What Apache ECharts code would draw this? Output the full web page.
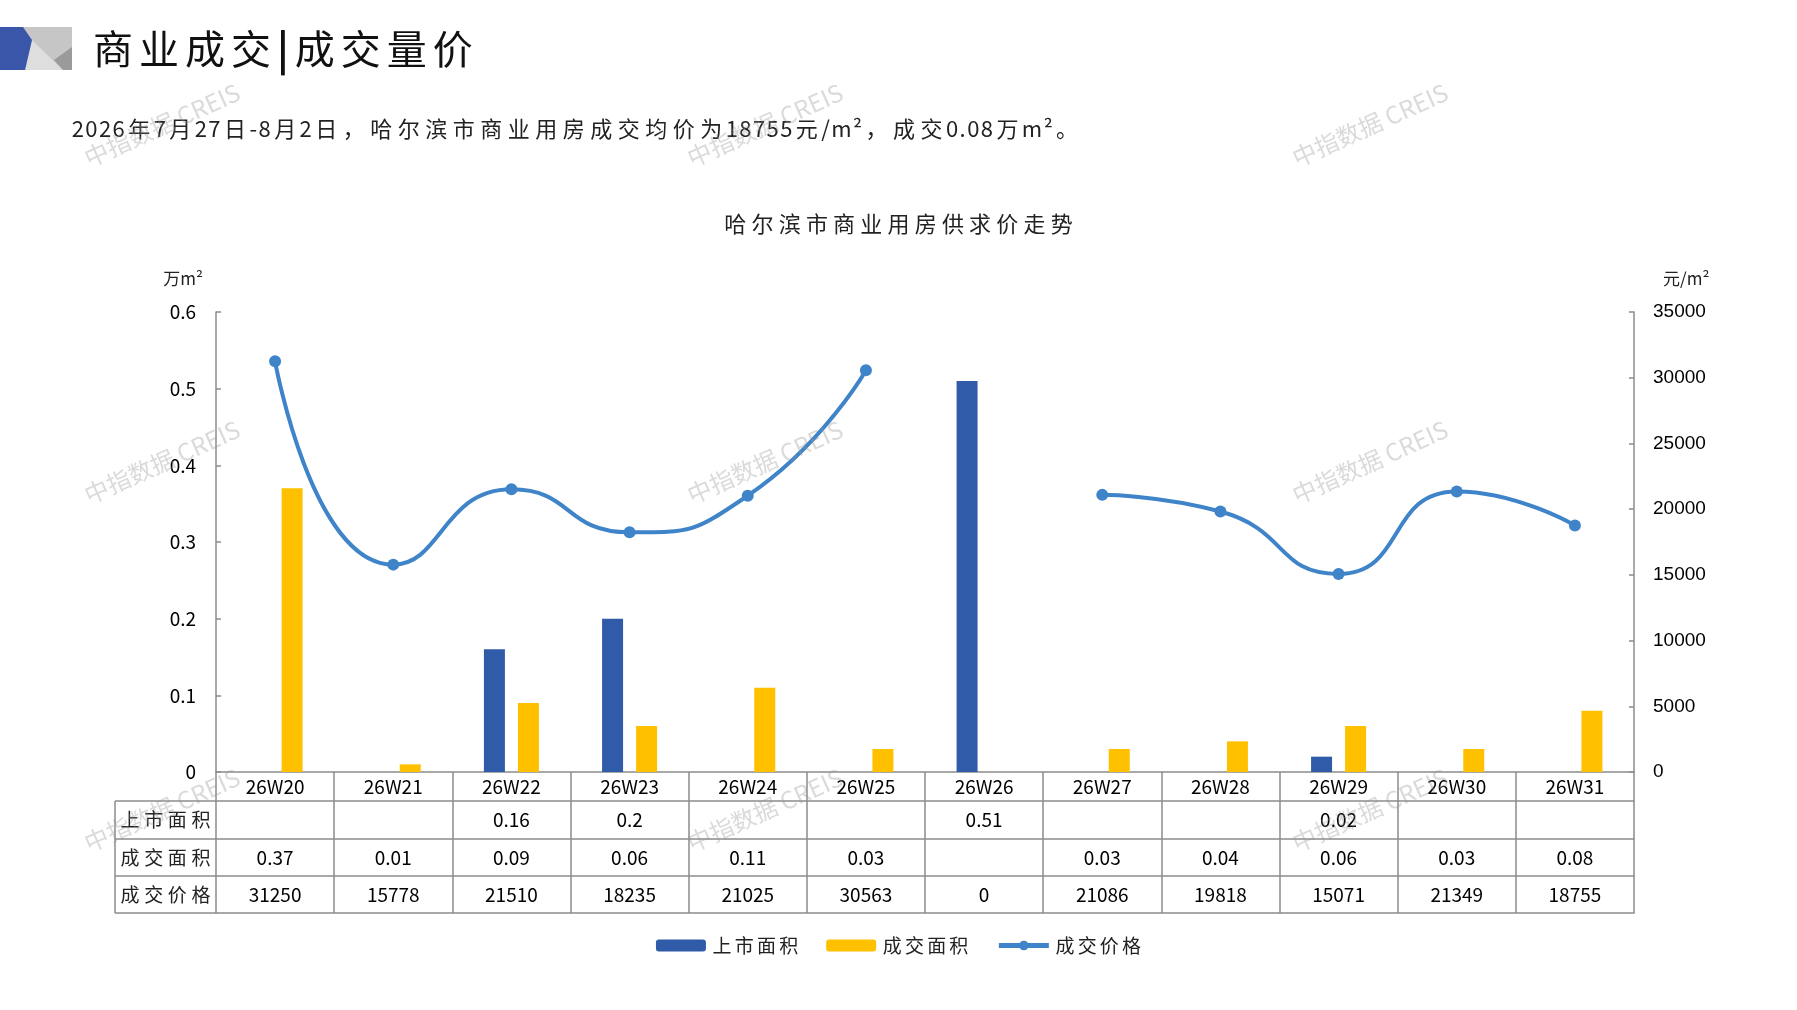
<!DOCTYPE html>
<html>
<head>
<meta charset="utf-8">
<title>哈尔滨市商业用房供求价走势</title>
<script src="https://cdn.jsdelivr.net/npm/echarts@6/dist/echarts.min.js"></script>
<style>
	html, body { margin: 0; padding: 0; background: #fff; }
	#main { width: 1797px; height: 1010px; }
</style>
</head>
<body>
<div id="main"></div>
<script>

var weeks = ['26W20', '26W21', '26W22', '26W23', '26W24', '26W25', '26W26', '26W27', '26W28', '26W29', '26W30', '26W31'];
var supplyArea = [null, null, 0.16, 0.2, null, null, 0.51, null, null, 0.02, null, null];
var dealArea = [0.37, 0.01, 0.09, 0.06, 0.11, 0.03, null, 0.03, 0.04, 0.06, 0.03, 0.08];
var dealPrice = [31250, 15778, 21510, 18235, 21025, 30563, 0, 21086, 19818, 15071, 21349, 18755];
var rowNames = ['上市面积', '成交面积', '成交价格'];

var font = '"Noto Sans CJK SC", "Noto Sans", sans-serif';
var gray = '#8c8c8c';

// layout of the plot and the data table under it
var gridLeft = 216, gridRight = 1634, gridTop = 312, gridBottom = 772;
var tableLeft = 115;
var rowLines = [772, 801, 839, 876, 913];

function cellText(v) {
	return v == null ? '' : String(v);
}

// wide (CJK) characters get a little extra room, like the original slide
function spaced(str) {
	return str.replace(/[^\x00-\xff]/g, function (m) { return '{w|' + m + '}'; });
}
// same, but narrow characters get some room too
function spacedAll(str) {
	return str.split('').map(function (ch) {
		return (ch.charCodeAt(0) > 255 ? '{w|' : '{n|') + ch + '}';
	}).join('');
}
function richW(size, pad, color, padN) {
	var r = {
		w: { fontSize: size, fontFamily: font, color: color, fill: color, padding: [0, pad, 0, pad] }
	};
	if (padN != null) {
		r.n = { fontSize: size, fontFamily: font, color: color, fill: color, padding: [0, padN, 0, padN] };
	}
	return r;
}

// line gap where the price is 0 (no deal)
var priceLine = dealPrice.map(function (v) { return v === 0 ? null : v; });

var myChart = echarts.init(document.getElementById('main'));

function tableAxis(idx, values) {
	return {
		type: 'category',
		gridIndex: 0,
		position: 'bottom',
		offset: rowLines[idx] - gridBottom,
		data: values || weeks,
		axisLine: { show: true, onZero: false, lineStyle: { color: gray, width: 1.5 } },
		axisTick: {
			show: values != null,
			interval: 0,
			alignWithLabel: false,
			length: values != null ? rowLines[idx + 1] - rowLines[idx] : 0,
			lineStyle: { color: gray, width: 1.5 }
		},
		axisLabel: {
			show: values != null,
			interval: 0,
			margin: idx === 0 ? 5 : 9,
			fontSize: 19,
			color: '#000',
			fontFamily: font
		},
		axisPointer: { show: false }
	};
}

var xAxes = [
	tableAxis(0, weeks),
	tableAxis(1, supplyArea.map(cellText)),
	tableAxis(2, dealArea.map(cellText)),
	tableAxis(3, dealPrice.map(cellText)),
	tableAxis(4, null)
];

var heading = '商业成交{bar||}成交量价';
var subtitle = '2026年7月27日-8月2日，哈尔滨市商业用房成交均价为18755元/m²，成交0.08万m²。';

var graphics = [
	// corner logo
	{
		type: 'polygon',
		shape: { points: [[0, 27], [72, 27], [72, 70], [0, 70]] },
		style: { fill: '#c6c6c6' }
	},
	{
		type: 'polygon',
		shape: { points: [[32, 40], [63, 70], [25, 70]] },
		style: { fill: '#dedede' }
	},
	{
		type: 'polygon',
		shape: { points: [[72, 47], [54, 60], [63, 70], [72, 70]] },
		style: { fill: '#9a9a9a' }
	},
	{
		type: 'polygon',
		shape: { points: [[0, 27], [23, 27], [32, 40], [25, 70], [0, 70]] },
		style: { fill: '#3a56a8' }
	},
	{
		type: 'text',
		x: 90,
		y: 49,
		style: {
			text: spaced(heading),
			fontSize: 40, fontFamily: font, fill: '#111', verticalAlign: 'middle',
			rich: {
				w: { fontSize: 40, fontFamily: font, fill: '#111', padding: [0, 3, 0, 3] },
				bar: { fontSize: 40, fontFamily: font, fontWeight: 'bold', fill: '#111', padding: [0, 3, 0, 3] }
			}
		}
	},
	{
		type: 'text',
		x: 71,
		y: 129,
		style: {
			text: spacedAll(subtitle),
			fontSize: 22, fontFamily: font, fill: '#222', verticalAlign: 'middle',
			rich: richW(22, 2.75, '#222', 0.7)
		}
	}
];

// left header column of the table
for (var i = 1; i < rowLines.length; i++) {
	graphics.push({
		type: 'line',
		shape: { x1: tableLeft, y1: rowLines[i], x2: gridLeft, y2: rowLines[i] },
		style: { stroke: gray, lineWidth: 1.5 }
	});
}
graphics.push({
	type: 'line',
	shape: { x1: tableLeft, y1: rowLines[1], x2: tableLeft, y2: rowLines[4] },
	style: { stroke: gray, lineWidth: 1.5 }
});
rowNames.forEach(function (name, k) {
	graphics.push({
		type: 'text',
		x: (tableLeft + gridLeft) / 2,
		y: (rowLines[k + 1] + rowLines[k + 2]) / 2,
		style: {
			text: spaced(name), fontSize: 19, fontFamily: font, fill: '#222',
			align: 'center', verticalAlign: 'middle',
			rich: richW(19, 2.3, '#222')
		}
	});
});

// watermarks
[162, 765, 1370].forEach(function (wx) {
	[125, 462, 810].forEach(function (wy) {
		graphics.push({
			type: 'text',
			x: wx,
			y: wy,
			rotation: Math.PI / 7.5,
			z: 100,
			style: {
				text: '中指数据 CREIS', fontSize: 24, fontFamily: font,
				fill: 'rgba(150,150,150,0.35)', align: 'center', verticalAlign: 'middle'
			}
		});
	});
});

var option = {
	backgroundColor: '#fff',
	title: {
		text: spaced('哈尔滨市商业用房供求价走势'),
		left: 'center',
		top: 208,
		textStyle: {
			fontSize: 22, fontWeight: 'normal', color: '#222', fontFamily: font,
			rich: richW(22, 2.6, '#222')
		}
	},
	legend: {
		bottom: 50,
		left: 'center',
		itemWidth: 50,
		itemHeight: 12,
		itemGap: 28,
		formatter: function (name) { return spaced(name); },
		textStyle: {
			fontSize: 19, color: '#222', fontFamily: font,
			rich: richW(19, 1.6, '#222')
		},
		data: [
			'上市面积',
			'成交面积',
			{ name: '成交价格', lineStyle: { width: 5 } }
		]
	},
	grid: {
		left: gridLeft,
		right: 1797 - gridRight,
		top: gridTop,
		bottom: 1010 - gridBottom
	},
	xAxis: xAxes,
	yAxis: [
		{
			type: 'value',
			min: 0,
			max: 0.6,
			interval: 0.1,
			name: '万m²',
			nameGap: 25,
			nameTextStyle: { align: 'right', padding: [0, 13, 0, 0], fontSize: 17, color: '#222', fontFamily: font },
			axisLine: { show: true, lineStyle: { color: gray, width: 1.5 } },
			axisTick: { show: true, inside: true, length: 5, lineStyle: { color: gray, width: 1.5 } },
			axisLabel: { fontSize: 19, color: '#000', margin: 20, fontFamily: font },
			splitLine: { show: false }
		},
		{
			type: 'value',
			min: 0,
			max: 35000,
			interval: 5000,
			name: '元/m²',
			nameGap: 25,
			nameTextStyle: { align: 'left', padding: [0, 0, 0, 29], fontSize: 17, color: '#222', fontFamily: font },
			axisLine: { show: true, lineStyle: { color: gray, width: 1.5 } },
			axisTick: { show: true, inside: true, length: 5, lineStyle: { color: gray, width: 1.5 } },
			axisLabel: {
				fontSize: 19, color: '#000', margin: 19, fontFamily: 'Liberation Sans, Arial, sans-serif',
				formatter: function (v) { return String(v); }
			},
			splitLine: { show: false }
		}
	],
	graphic: graphics,
	series: [
		{
			name: '上市面积',
			type: 'bar',
			barWidth: 21,
			barGap: '62%',
			itemStyle: { color: '#2f5ba8' },
			data: supplyArea
		},
		{
			name: '成交面积',
			type: 'bar',
			barWidth: 21,
			itemStyle: { color: '#ffc000' },
			data: dealArea
		},
		{
			name: '成交价格',
			type: 'line',
			yAxisIndex: 1,
			smooth: 0.55,
			connectNulls: false,
			symbol: 'circle',
			symbolSize: 12,
			lineStyle: { color: '#3f84c9', width: 4 },
			itemStyle: { color: '#3f84c9' },
			data: priceLine
		}
	]
};

myChart.setOption(option);

</script>
</body>
</html>
